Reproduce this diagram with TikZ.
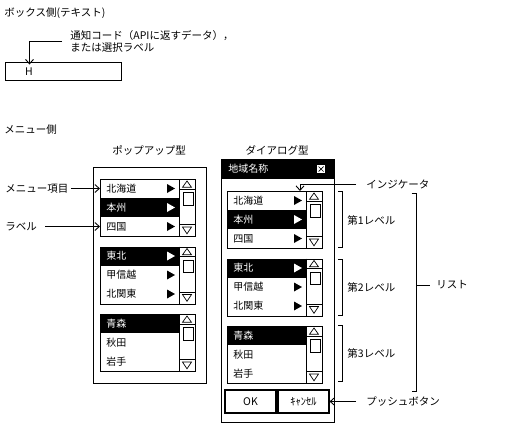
\documentclass[tikz,border=0pt]{standalone}
\usepackage{fontspec}
\newfontfamily\jp{Noto Sans CJK JP}
\usetikzlibrary{arrows.meta}

% #1 x, #2 y (top left), #3 name, #4 black row, #5 arrows (1/0), #6-#8 items
\newcommand\menulist[8]{%
 \begin{scope}[shift={(#1,#2)}]
  \ifnum#4=1 \def\colA{white}\else\def\colA{black}\fi
  \ifnum#4=2 \def\colB{white}\else\def\colB{black}\fi
  \ifnum#4=3 \def\colC{white}\else\def\colC{black}\fi
  \fill (0,{(#4-1)*19}) rectangle (79,{#4*19});
  \node[listframe, anchor=north west] (#3) at (0,0) {};
  \node[itemtxt, text=\colA] (#3-t1) at (6,9.5) {#6};
  \node[itemtxt, text=\colB] (#3-t2) at (6,28.5) {#7};
  \node[itemtxt, text=\colC] (#3-t3) at (6,47.5) {#8};
  \ifnum#5=1
   \fill[\colA] (67,5) -- (67,14) -- (75,9.5) -- cycle;
   \fill[\colB] (67,24) -- (67,33) -- (75,28.5) -- cycle;
   \fill[\colC] (67,43) -- (67,52) -- (75,47.5) -- cycle;
  \fi
  \draw (79,0) -- (79,57);
  \draw (79,10) -- (95,10);
  \draw (79,45.5) -- (95,45.5);
  \draw[line width=0.7pt] (82.5,8.3) -- (91.5,8.3) -- (87,2) -- cycle;
  \draw (83,13.5) rectangle (93.5,26);
  \draw[line width=0.7pt] (82.5,48) -- (91.5,48) -- (87,54.8) -- cycle;
  \coordinate (#3-r1) at (0,9.5);
  \coordinate (#3-r3) at (0,47.5);
  \coordinate (#3-ind) at (73,0);
 \end{scope}}

\begin{document}
\begin{tikzpicture}[x=1pt,y=-1pt, line width=0.9pt,
  every node/.style={font=\jp\fontsize{10.5}{12}\selectfont, inner sep=0pt},
  lbl/.style={anchor=west},
  itemtxt/.style={anchor=west, font=\jp\fontsize{10}{12}\selectfont},
  listframe/.style={draw, minimum width=95pt, minimum height=57pt},
  frame/.style={draw, anchor=north west},
  arr/.style={-{Straight Barb[length=4.5pt,width=8pt]}},
  btn/.style={draw, minimum width=51pt, minimum height=23pt, line width=1.1pt},
  bracket/.style={line width=0.9pt}]
\useasboundingbox (0,0) rectangle (508,426);

% ---- box side
\node[lbl] (t1) at (4,13) {ボックス側(テキスト)};
\node[lbl, align=left] (note) at (70,41.5) {通知コード（APIに返すデータ），\\または選択ラベル};
\node[frame, minimum width=116pt, minimum height=18pt] (hbox) at (4.5,62) {};
\node (hlbl) at (29,72) {H};
\coordinate (htip) at (29.5,64.5);
\draw[arr] ([xshift=-8pt]note.west) -| (htip);

% ---- menu side
\node[lbl] (t2) at (4,130) {メニュー側};
\node (tpop) at (149,150) {ポップアップ型};
\node (tdlg) at (277,150) {ダイアログ型};

% popup
\node[frame, minimum width=113pt, minimum height=216pt] (pop) at (92.5,167) {};
\menulist{100}{179}{pa}{2}{1}{北海道}{本州}{四国}
\menulist{100}{246.5}{pb}{1}{1}{東北}{甲信越}{北関東}
\menulist{100}{314}{pc}{1}{0}{青森}{秋田}{岩手}

% dialog
\node[frame, minimum width=113pt, minimum height=263pt] (dlg) at (220.5,159) {};
\fill (220.5,159) rectangle (333.5,178.5);
\node[lbl, text=white, font=\jp\fontsize{10}{12}\selectfont] (dtitle) at (228,168.5) {地域名称};
\node[draw, fill=white, minimum size=9pt, line width=0.7pt] (close) at (321,169) {};
\draw[line width=0.7pt] ([shift={(-2.5,-2.5)}]close.center) -- ([shift={(2.5,2.5)}]close.center)
  ([shift={(-2.5,2.5)}]close.center) -- ([shift={(2.5,-2.5)}]close.center);
\menulist{227}{191}{da}{2}{1}{北海道}{本州}{四国}
\menulist{227}{258.5}{db}{1}{1}{東北}{甲信越}{北関東}
\menulist{227}{326}{dc}{1}{0}{青森}{秋田}{岩手}
\node[btn] (ok) at (250.5,401.5) {OK};
\node[btn] (cancel) at (303.5,401.5) {ｷｬﾝｾﾙ};

% left labels
\node[lbl] (lmenu) at (5,188.5) {メニュー項目};
\draw[arr] ([xshift=2pt]lmenu.east) -- (pa-r1);
\node[lbl] (llabel) at (5,226.5) {ラベル};
\draw[arr] ([xshift=8pt]llabel.east) -- (pa-r3);

% right labels
\node[lbl] (lind) at (366,184) {インジケータ};
\draw[arr] ([xshift=-10pt]lind.west) -| (da-ind);
\draw[bracket] (338,191.5) -- (342.5,191.5) -- (342.5,247.5) -- (338,247.5);
\node[lbl] (lv1) at (347,220) {第1レベル};
\draw[bracket] (338,259) -- (342.5,259) -- (342.5,315) -- (338,315);
\node[lbl] (lv2) at (347,287) {第2レベル};
\draw[bracket] (338,325.5) -- (342.5,325.5) -- (342.5,381.5) -- (338,381.5);
\node[lbl] (lv3) at (347,353) {第3レベル};
\draw[bracket] (411.5,193) -- (416.5,193) -- (416.5,391) -- (411.5,391);
\coordinate (brmid) at (416.5,285);
\node[lbl] (llist) at (436,285) {リスト};
\draw (brmid) -- ([xshift=-6pt]llist.west);
\node[lbl] (lpb) at (366,401.5) {プッシュボタン};
\draw[arr] ([xshift=-10pt]lpb.west) -- (cancel.east);
\end{tikzpicture}
\end{document}
